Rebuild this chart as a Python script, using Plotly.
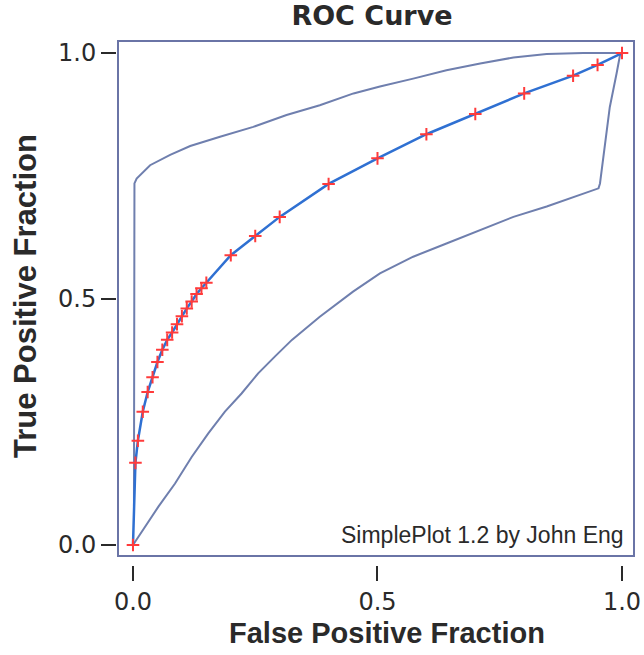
import plotly.graph_objects as go

# Fitted ROC points
FPF = [0, 0.005, 0.01, 0.02, 0.03, 0.04, 0.05, 0.06, 0.07, 0.08, 0.09, 0.10, 0.11, 0.12,
       0.13, 0.14, 0.15, 0.2, 0.25, 0.3, 0.4, 0.5, 0.6, 0.7, 0.8, 0.9, 0.95, 1.0]
TPF = [0, 0.167, 0.212, 0.271, 0.311, 0.341, 0.372, 0.397, 0.417, 0.432, 0.449, 0.465,
       0.481, 0.495, 0.510, 0.522, 0.533, 0.589, 0.628, 0.667, 0.734, 0.786, 0.835,
       0.876, 0.918, 0.954, 0.976, 1.0]

# Upper confidence bound
U_FPF = [0.002, 0.003, 0.0075, 0.035, 0.076, 0.117, 0.178, 0.246, 0.314, 0.382, 0.451,
         0.505, 0.573, 0.641, 0.71, 0.778, 0.846, 0.921, 1.0]
U_TPF = [0.08, 0.735, 0.745, 0.772, 0.793, 0.811, 0.830, 0.850, 0.874, 0.894, 0.918,
         0.932, 0.948, 0.965, 0.979, 0.991, 0.998, 1.0, 1.0]

# Lower confidence bound
L_FPF = [0, 0.026, 0.052, 0.086, 0.12, 0.154, 0.188, 0.222, 0.256, 0.29, 0.325, 0.382,
         0.45, 0.505, 0.573, 0.641, 0.71, 0.778, 0.846, 0.914, 0.952, 0.955, 0.962,
         0.975, 0.989, 0.996, 1.0]
L_TPF = [0, 0.038, 0.078, 0.125, 0.179, 0.227, 0.271, 0.308, 0.349, 0.383, 0.417, 0.464,
         0.515, 0.552, 0.586, 0.613, 0.64, 0.667, 0.688, 0.711, 0.725, 0.735, 0.789,
         0.89, 0.959, 0.996, 1.0]

TICK_VALS = [0.0, 0.5, 1.0]
TICK_TEXT = ["0.0", "0.5", "1.0"]

# Layout in page pixels (body margin is removed by the post script)
W, H = 644, 655
PAPER_L, PAPER_R, PAPER_T, PAPER_B = 90, 633, 42, 595   # page pixels
ML = PAPER_L
MR = W - PAPER_R
MT = PAPER_T
MB = H - PAPER_B
PW = PAPER_R - PAPER_L
PH = PAPER_B - PAPER_T


def px(X):
    return (X - PAPER_L) / PW


def py(Y):
    return (PAPER_B - Y) / PH


BOX_L, BOX_B = 119, 555
xdom0 = px(BOX_L)
ydom0 = py(BOX_B)

XR = [-0.0286, 1.0225]
YR = [-0.0203, 1.0225]

BOUND_C = "#6f7fae"
FIT_C = "#2f70d2"
FRAME_C = "#6a74a6"
TXT_C = "#2a2a2a"

fig = go.Figure()
fig.add_trace(go.Scatter(x=U_FPF, y=U_TPF, mode="lines",
                         line=dict(color=BOUND_C, width=2), hoverinfo="skip"))
fig.add_trace(go.Scatter(x=L_FPF, y=L_TPF, mode="lines",
                         line=dict(color=BOUND_C, width=2), hoverinfo="skip"))
fig.add_trace(go.Scatter(x=FPF, y=TPF, mode="lines+markers",
                         line=dict(color=FIT_C, width=2.5),
                         marker=dict(symbol="cross-thin", size=9,
                                     line=dict(color="#ff3b3b", width=2))))
# invisible traces to register the tick axes
fig.add_trace(go.Scatter(x=[0, 1], y=[0, 1], xaxis="x2", yaxis="y", mode="markers",
                         marker=dict(opacity=0), hoverinfo="skip"))
fig.add_trace(go.Scatter(x=[0, 1], y=[0, 1], xaxis="x", yaxis="y2", mode="markers",
                         marker=dict(opacity=0), hoverinfo="skip"))

tickfont = dict(family="DejaVu Sans", size=24, color=TXT_C)

fig.update_layout(
    width=W, height=H,
    margin=dict(l=ML, r=MR, t=MT, b=MB, autoexpand=False),
    paper_bgcolor="white", plot_bgcolor="white",
    showlegend=False,
    title=dict(text="<b>ROC Curve</b>", x=px(372), xref="paper", xanchor="center",
               y=1 - 16 / H, yref="container", yanchor="middle",
               font=dict(family="DejaVu Sans", size=27, color=TXT_C)),
    xaxis=dict(domain=[xdom0, 1], range=XR, showgrid=False, zeroline=False,
               showline=True, mirror=True, linecolor=FRAME_C, linewidth=2,
               ticks="", showticklabels=False, anchor="y"),
    yaxis=dict(domain=[ydom0, 1], range=YR, showgrid=False, zeroline=False,
               showline=True, mirror=True, linecolor=FRAME_C, linewidth=2,
               ticks="", showticklabels=False, anchor="x"),
    xaxis2=dict(overlaying="x", anchor="free", position=py(565),
                domain=[xdom0, 1], range=XR, showgrid=False, zeroline=False,
                showline=False, ticks="outside", ticklen=15, tickwidth=2,
                tickcolor=TXT_C, tickvals=TICK_VALS, ticktext=TICK_TEXT,
                tickfont=tickfont),
    yaxis2=dict(overlaying="y", anchor="free", position=px(116), side="left",
                domain=[ydom0, 1], range=YR, showgrid=False, zeroline=False,
                showline=False, ticks="outside", ticklen=15, tickwidth=2,
                tickcolor=TXT_C, tickvals=TICK_VALS, ticktext=TICK_TEXT,
                tickfont=tickfont),
    annotations=[
        dict(text="<b>False Positive Fraction</b>", xref="paper", yref="paper",
             x=px(387), y=py(633), xanchor="center", yanchor="middle",
             showarrow=False, font=dict(family="Liberation Sans", size=29, color=TXT_C)),
        dict(text="<b>True Positive Fraction</b>", xref="paper", yref="paper",
             x=px(25), y=py(296), xanchor="center", yanchor="middle",
             textangle=-90, showarrow=False,
             font=dict(family="Liberation Sans", size=31, color=TXT_C)),
        dict(text="SimplePlot 1.2 by John Eng", xref="paper", yref="paper",
             x=px(626), y=py(535), xanchor="right", yanchor="middle",
             showarrow=False, font=dict(family="Liberation Sans", size=23, color=TXT_C)),
    ],
)

fig.write_html("out.html", config={"displayModeBar": False},
               post_script="document.body.style.margin='0px';")
